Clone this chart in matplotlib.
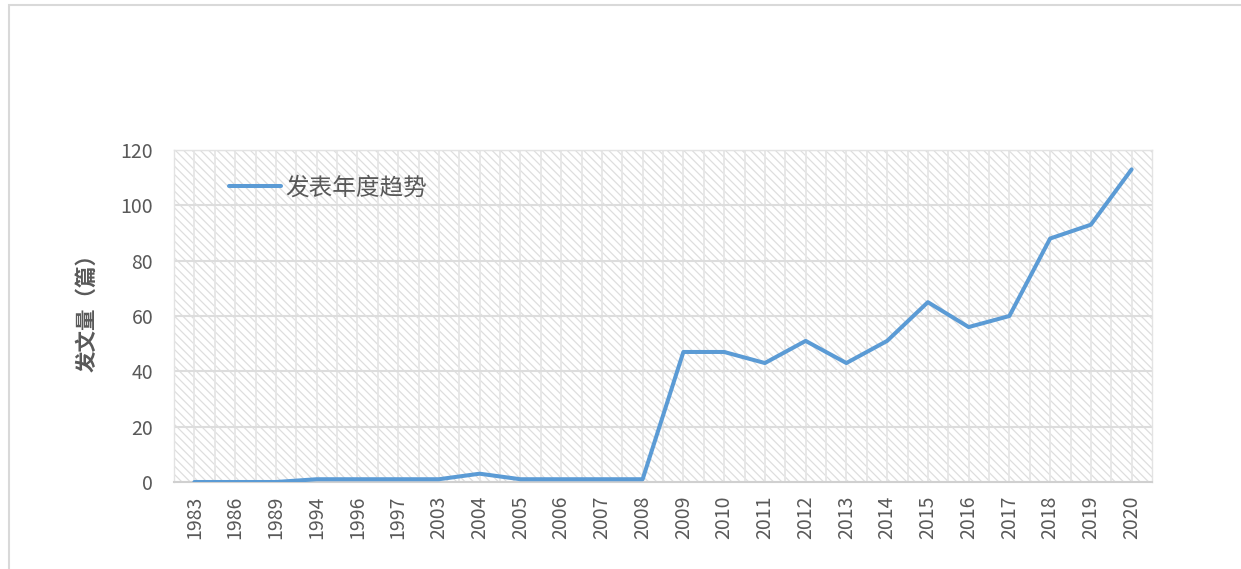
import matplotlib
matplotlib.use("Agg")
import matplotlib.pyplot as plt
from matplotlib.patches import Rectangle

plt.rcParams['font.family'] = ['Noto Sans CJK SC', 'DejaVu Sans']
plt.rcParams['hatch.color'] = '#dedede'
plt.rcParams['hatch.linewidth'] = 0.9

years = ['1983', '1986', '1989', '1994', '1996', '1997', '2003', '2004', '2005',
         '2006', '2007', '2008', '2009', '2010', '2011', '2012', '2013', '2014',
         '2015', '2016', '2017', '2018', '2019', '2020']
counts = [0, 0, 0, 1, 1, 1, 1, 3, 1, 1, 1, 1, 47, 47, 43, 51, 43, 51,
          65, 56, 60, 88, 93, 113]
yticks = [0, 20, 40, 60, 80, 100, 120]
series_name = '发表年度趋势'
ylabel = '发文量（篇）'

W, H = 1241, 569
fig = plt.figure(figsize=(W / 100, H / 100), dpi=100)
fig.patches.append(Rectangle((8.5 / W, -0.05), 1.1, (H - 5) / H + 0.05,
                             transform=fig.transFigure, fill=False,
                             edgecolor='#d9d9d9', linewidth=1.5))

ax = fig.add_axes([174 / W, (H - 482) / H, 978 / W, 332 / H])
ax.set_facecolor('white')
ax.add_patch(Rectangle((0, 0), 1, 1, transform=ax.transAxes, facecolor='white',
                       hatch='\\\\\\\\', edgecolor='#dedede', linewidth=0, zorder=0))
# pattern vertical lines
n_v = 48
for i in range(1, n_v):
    ax.plot([i / n_v, i / n_v], [0, 1], transform=ax.transAxes,
            color='#e6e6e6', linewidth=1.3, zorder=0.5)

x = list(range(len(years)))
ax.plot(x, counts, color='#5B9BD5', linewidth=2.9, label=series_name,
        solid_capstyle='round', zorder=3)

ax.set_xlim(-0.5, len(years) - 0.5)
ax.set_ylim(0, 120)
ax.set_yticks(yticks)
ax.set_xticks(x)
ax.set_xticklabels(years, rotation=90)
ax.yaxis.grid(True, color='#dddddd', linewidth=1.5, zorder=0.6)
ax.set_axisbelow(True)
ax.tick_params(axis='both', length=0, labelsize=14, colors='#595959')
ax.tick_params(axis='x', pad=10)
ax.tick_params(axis='y', pad=15)
for s in ['top', 'right', 'left']:
    ax.spines[s].set_color('#e3e3e3')
    ax.spines[s].set_linewidth(1)
ax.spines['bottom'].set_color('#d0d0d0')
ax.spines['bottom'].set_linewidth(1.5)

ax.set_ylabel(ylabel, fontsize=15.5, fontweight='bold', color='#595959')
ax.yaxis.set_label_coords(-0.078, 0.525)

leg = ax.legend(loc='upper left', bbox_to_anchor=(0.035, 0.985), frameon=False,
                fontsize=17, handlelength=2.2, handletextpad=0.15)
for t in leg.get_texts():
    t.set_color('#595959')

fig.savefig('out.png', dpi=100)
